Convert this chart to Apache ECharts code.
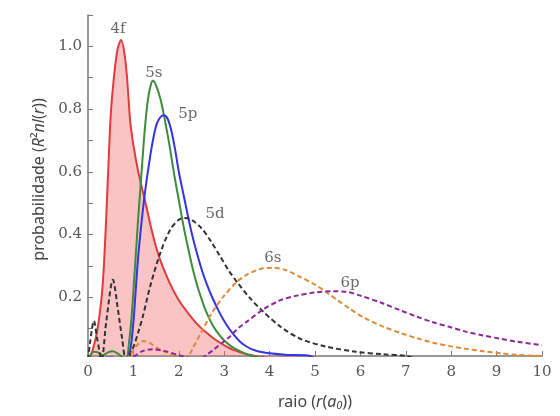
<!DOCTYPE html>
<html>
<head>
<meta charset="utf-8">
<script src="https://cdn.jsdelivr.net/npm/echarts@6/dist/echarts.min.js"></script>
<style>html,body{margin:0;padding:0;background:#fff}#c{width:560px;height:416px}</style>
</head>
<body>
<div id="c"></div>
<script>
// radial probability curves: [r (a0), probability]
const s4f = [[0,0],[0.05,0.01],[0.1,0.03],[0.2,0.09],[0.3,0.2],[0.35,0.3],[0.4,0.45],[0.45,0.62],[0.5,0.78],[0.57,0.9],[0.65,0.99],[0.73,1.02],[0.8,0.98],[0.86,0.9],[0.93,0.76],[1.0,0.685],[1.1,0.605],[1.21,0.535],[1.3,0.48],[1.4,0.415],[1.5,0.36],[1.6,0.315],[1.8,0.245],[2.0,0.19],[2.2,0.15],[2.4,0.115],[2.6,0.088],[2.8,0.065],[3.0,0.047],[3.2,0.032],[3.5,0.018],[3.8,0.009],[4.2,0.003],[4.6,0]];
const s5s = [[0,0],[0.05,0.015],[0.12,0.026],[0.2,0.025],[0.33,0.015],[0.45,0.025],[0.55,0.028],[0.68,0.018],[0.8,0.004],[0.85,0],[0.9,0.05],[0.95,0.12],[1.0,0.22],[1.05,0.33],[1.1,0.44],[1.15,0.54],[1.2,0.64],[1.26,0.75],[1.32,0.83],[1.38,0.875],[1.43,0.89],[1.5,0.875],[1.6,0.83],[1.7,0.76],[1.8,0.68],[1.9,0.59],[2.0,0.51],[2.1,0.43],[2.2,0.36],[2.3,0.295],[2.4,0.24],[2.5,0.195],[2.6,0.155],[2.75,0.11],[2.9,0.078],[3.0,0.062],[3.15,0.044],[3.3,0.031],[3.45,0.021],[3.6,0.013],[3.9,0.005],[4.2,0]];
const s5p = [[0,0],[0.3,0.006],[0.5,0.008],[0.7,0.004],[0.85,0],[0.93,0.03],[1.0,0.12],[1.05,0.22],[1.1,0.32],[1.18,0.44],[1.26,0.54],[1.37,0.65],[1.45,0.715],[1.52,0.755],[1.6,0.775],[1.67,0.78],[1.75,0.77],[1.83,0.735],[1.92,0.67],[2.0,0.6],[2.1,0.53],[2.2,0.46],[2.3,0.395],[2.4,0.34],[2.5,0.29],[2.62,0.24],[2.75,0.195],[2.9,0.15],[3.05,0.112],[3.2,0.082],[3.35,0.058],[3.5,0.042],[3.7,0.029],[4.0,0.021],[4.4,0.016],[4.85,0.014],[5.0,0.005]];
const s5d = [[0,0],[0.05,0.06],[0.13,0.125],[0.2,0.07],[0.3,0],[0.4,0.12],[0.55,0.256],[0.65,0.17],[0.75,0.07],[0.84,0],[0.97,0.03],[1.1,0.085],[1.21,0.14],[1.37,0.235],[1.59,0.34],[1.81,0.415],[2.0,0.447],[2.14,0.453],[2.3,0.445],[2.5,0.42],[2.7,0.38],[2.9,0.333],[3.1,0.285],[3.3,0.245],[3.55,0.2],[3.85,0.155],[4.25,0.105],[4.7,0.066],[5.26,0.042],[5.9,0.026],[6.5,0.018],[7.0,0.013],[7.2,0.005]];
const s6s = [[0.84,0],[0.95,0.02],[1.1,0.05],[1.22,0.06],[1.35,0.055],[1.5,0.04],[1.7,0.025],[1.9,0.012],[2.14,0],[2.3,0.035],[2.5,0.09],[2.75,0.155],[3.0,0.205],[3.25,0.245],[3.5,0.272],[3.8,0.29],[4.07,0.294],[4.35,0.287],[4.67,0.265],[5.0,0.24],[5.26,0.215],[5.5,0.19],[5.77,0.163],[6.1,0.133],[6.5,0.106],[6.9,0.085],[7.25,0.069],[7.6,0.055],[7.97,0.044],[8.3,0.036],[8.7,0.028],[9.1,0.021],[9.45,0.016],[10,0.012]];
const s6p = [[0.84,0],[1.0,0.01],[1.2,0.028],[1.43,0.034],[1.7,0.028],[2.0,0.015],[2.3,0.004],[2.45,0],[2.6,0.015],[2.75,0.031],[3.0,0.06],[3.13,0.075],[3.3,0.1],[3.5,0.122],[3.85,0.16],[4.23,0.19],[4.6,0.205],[5.0,0.215],[5.4,0.219],[5.7,0.217],[6.0,0.205],[6.5,0.18],[6.9,0.157],[7.25,0.1375],[7.6,0.12],[7.97,0.105],[8.3,0.091],[8.7,0.078],[9.1,0.067],[9.45,0.058],[10,0.047]];
// curve name labels: [r, probability, text]
const curveLabels = [[0.66,1.055,'4f'],[1.45,0.915,'5s'],[2.2,0.785,'5p'],[2.8,0.465,'5d'],[4.07,0.325,'6s'],[5.77,0.245,'6p']];
const xTicks = [0,1,2,3,4,5,6,7,8,9,10];
const yLabelTicks = [0.2,0.4,0.6,0.8,1.0];
const yMinorTicks = [0.1,0.2,0.3,0.4,0.5,0.6,0.7,0.8,0.9,1.0,1.1];

const serif = '"DejaVu Serif", "Liberation Serif", serif';
const sans = '"Noto Sans", "Open Sans", sans-serif';

function line(data, color, dashed, extra) {
  return Object.assign({
    type: 'line', data: data, smooth: 0.3, showSymbol: false, symbol: 'none',
    lineStyle: { color: color, width: 2, type: dashed ? [5, 3] : 'solid' },
    z: 3
  }, extra || {});
}

const chart = echarts.init(document.getElementById('c'), null, { renderer: 'canvas' });
chart.setOption({
  animation: false,
  backgroundColor: '#fff',
  grid: { left: 88, right: 18, top: 15, bottom: 53 },
  xAxis: {
    type: 'value', min: 0, max: 10, interval: 1,
    name: '{t|raio (}{i|r}{t|(}{i|a}{s|0}{t|))}',
    nameLocation: 'middle', nameGap: 38,
    nameTextStyle: { fontFamily: sans, fontSize: 16, color: '#444', rich: {
      t: { fontFamily: sans, fontSize: 16, color: '#444' },
      i: { fontFamily: sans, fontSize: 16, color: '#444', fontStyle: 'italic' },
      s: { fontFamily: sans, fontSize: 11, color: '#444', fontStyle: 'italic', verticalAlign: 'bottom', padding: [6,0,0,0] }
    } },
    axisLine: { lineStyle: { color: '#777', width: 1.5 } },
    axisTick: { inside: true, length: 5, lineStyle: { color: '#777' }, customValues: xTicks },
    axisLabel: { fontFamily: serif, fontSize: 15, color: '#555', margin: 9, customValues: xTicks },
    splitLine: { show: false }
  },
  yAxis: {
    type: 'value', min: 0.0125, max: 1.1,
    name: '{t|probabilidade (}{i|R}{t|²}{i|nl}{t|(}{i|r}{t|))}',
    nameLocation: 'middle', nameGap: 31, nameRotate: 90,
    nameTextStyle: { fontFamily: sans, fontSize: 16, color: '#444', padding: [0,0,0,12], rich: {
      t: { fontFamily: sans, fontSize: 16, color: '#444' },
      i: { fontFamily: sans, fontSize: 16, color: '#444', fontStyle: 'italic' }
    } },
    axisLine: { show: true, lineStyle: { color: '#777', width: 1.5 } },
    axisTick: { show: true, inside: true, length: 5, lineStyle: { color: '#777' }, customValues: yMinorTicks },
    axisLabel: { fontFamily: serif, fontSize: 15, color: '#555', margin: 6, customValues: yLabelTicks,
      formatter: v => v.toFixed(1) },
    splitLine: { show: false }
  },
  series: [
    line(s4f, '#e23b3b', false, { areaStyle: { color: 'rgba(242,115,115,0.6)' }, z: 2 }),
    line(s5s, '#3c8c3c', false),
    line(s5p, '#3434e0', false),
    line(s5d, '#333333', true),
    line(s6s, '#e0893a', true),
    line(s6p, '#8a2a9a', true),
    {
      type: 'scatter', data: curveLabels, symbolSize: 0, z: 5,
      label: { show: true, position: 'inside', formatter: p => p.data[2],
        fontFamily: serif, fontSize: 15, color: '#444' }
    }
  ]
});
</script>
</body>
</html>
